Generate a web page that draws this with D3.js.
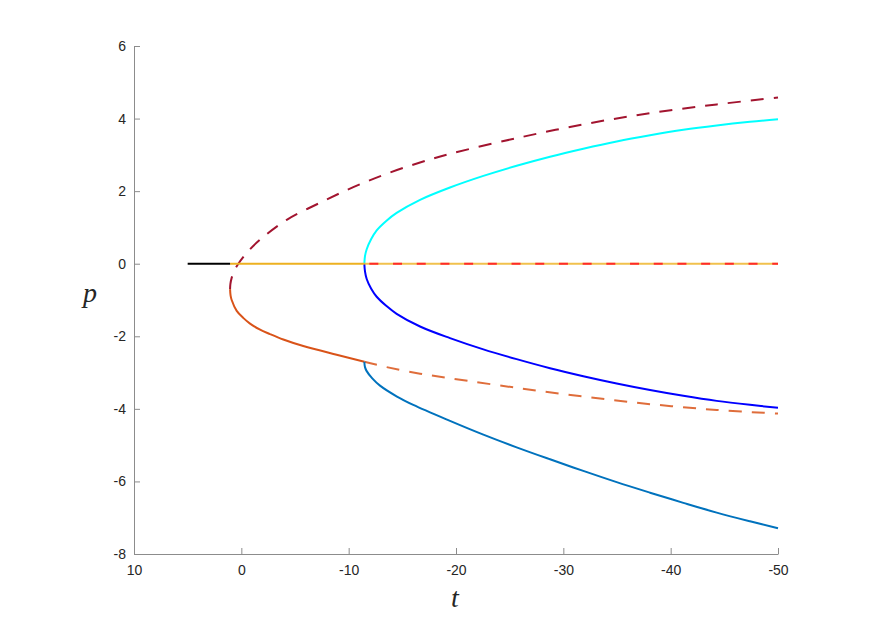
<!DOCTYPE html>
<html>
<head>
<meta charset="utf-8">
<script src="https://cdn.jsdelivr.net/npm/d3@7"></script>
<style>
  html, body { margin: 0; padding: 0; background: #fff; }
  svg { display: block; }
  .tick text { font-family: "Liberation Sans", Arial, Helvetica, sans-serif; font-size: 14px; fill: #262626; }
</style>
</head>
<body>
<svg id="chart" width="881" height="623"></svg>
<script>
// ---- data (t, p) ----
const xTicks = [10, 0, -10, -20, -30, -40, -50];
const yTicks = [-8, -6, -4, -2, 0, 2, 4, 6];

const blackBranch = [[5, 0], [1.05, 0]];
const yellowStable = [[1.05, 0], [-11.46, 0]];
const yellowUnstable = [[-11.46, 0], [-50, 0]];
const redDashedZero = [[-11.46, 0], [-50, 0]];

const upperDashed = [[1.05, -0.70], [1.02, -0.56], [0.90, -0.39], [0.62, -0.17], [0.28, 0.00], [-0.50, 0.30],
  [-1.74, 0.66], [-4.23, 1.21], [-7.33, 1.68], [-10.43, 2.11], [-13.54, 2.48], [-16.65, 2.79],
  [-19.60, 3.04], [-25.65, 3.46], [-31.86, 3.84], [-38.08, 4.15], [-44.29, 4.39], [-50, 4.58]];

const lowerSolid = [[1.05, -0.70], [1.00, -0.88], [0.90, -1.00], [0.43, -1.30], [-0.20, -1.50], [-0.81, -1.65],
  [-1.70, -1.81], [-2.67, -1.94], [-3.91, -2.09], [-5.77, -2.27], [-8.88, -2.51], [-11.46, -2.70]];

const lowerDashed = [[-11.46, -2.70], [-13.54, -2.85], [-16.65, -3.03], [-19.75, -3.17], [-25.65, -3.42],
  [-31.86, -3.66], [-38.08, -3.87], [-44.29, -4.03], [-50, -4.13]];

const cyanBranch = [[-11.46, 0], [-11.52, 0.21], [-11.68, 0.40], [-12.10, 0.68], [-12.61, 0.92], [-13.50, 1.18],
  [-14.47, 1.40], [-16.65, 1.76], [-19.44, 2.10], [-22.55, 2.42], [-25.65, 2.70], [-28.76, 2.95],
  [-31.86, 3.17], [-34.97, 3.37], [-38.08, 3.54], [-41.18, 3.69], [-44.29, 3.81], [-47.39, 3.91], [-50, 3.98]];

const blueBranch = [[-11.46, 0], [-11.52, -0.21], [-11.68, -0.42], [-12.10, -0.69], [-12.61, -0.91], [-13.50, -1.16],
  [-14.47, -1.38], [-16.65, -1.73], [-19.44, -2.05], [-22.55, -2.36], [-25.65, -2.63], [-28.76, -2.88],
  [-31.86, -3.10], [-34.97, -3.30], [-38.08, -3.48], [-41.18, -3.64], [-44.29, -3.78], [-47.39, -3.89], [-50, -3.97]];

const lightBlueBranch = [[-11.46, -2.70], [-11.52, -2.85], [-11.68, -2.96], [-12.20, -3.16], [-12.92, -3.36],
  [-14.50, -3.66], [-16.02, -3.89], [-19.44, -4.33], [-22.55, -4.71], [-25.65, -5.06], [-28.76, -5.39],
  [-31.86, -5.71], [-34.97, -6.02], [-38.08, -6.31], [-41.18, -6.59], [-44.29, -6.86], [-47.39, -7.10], [-50, -7.29]];

// ---- chart ----
const svg = d3.select("#chart");
const x = d3.scaleLinear().domain([10, -50]).range([134, 778]);
const y = d3.scaleLinear().domain([-8, 6]).range([554, 46]);

const line = d3.line().x(d => x(d[0])).y(d => y(d[1])).curve(d3.curveCatmullRom.alpha(0.5));

function draw(data, color, opts = {}) {
  svg.append("path")
    .datum(data)
    .attr("d", line)
    .attr("fill", "none")
    .attr("stroke", color)
    .attr("stroke-width", opts.w || 2)
    .attr("stroke-opacity", opts.op == null ? 1 : opts.op)
    .attr("stroke-dasharray", opts.dash || null)
    .attr("stroke-dashoffset", opts.offset || 0);
}

draw(upperDashed, "#A2142F", { dash: "13,10" });
draw(lowerDashed, "#D95319", { dash: "13,10", op: 0.85 });
draw(lowerSolid, "#D95319");
draw(lightBlueBranch, "#0072BD");
draw(cyanBranch, "#00FFFF");
draw(blueBranch, "#0000FF");
draw(yellowStable, "#EDB120");
draw(yellowUnstable, "#EDB120", { op: 0.8 });
draw(redDashedZero, "#FF2A2A", { dash: "9,14.7", offset: -5 });
draw(blackBranch, "#000000");

// axes
const fmt = d => String(d);
const xAxis = d3.axisBottom(x).tickValues(xTicks).tickFormat(fmt).tickSizeInner(-6).tickSizeOuter(0).tickPadding(11);
const yAxis = d3.axisLeft(y).tickValues(yTicks).tickFormat(fmt).tickSizeInner(-6).tickSizeOuter(0).tickPadding(8);

const gx = svg.append("g").attr("transform", "translate(0,554)").call(xAxis);
const gy = svg.append("g").attr("transform", "translate(134,0)").call(yAxis);
[gx, gy].forEach(g => {
  g.select(".domain").attr("stroke", "#8c8c8c").attr("stroke-width", 1);
  g.selectAll(".tick line").attr("stroke", "#8c8c8c");
});

// axis labels
svg.append("text").attr("x", 455).attr("y", 607).attr("text-anchor", "middle")
  .attr("font-family", "'Liberation Serif', 'DejaVu Serif', serif").attr("font-style", "italic")
  .attr("font-size", 28).attr("fill", "#262626").text("t");
svg.append("text").attr("x", 90).attr("y", 302).attr("text-anchor", "middle")
  .attr("font-family", "'Liberation Serif', 'DejaVu Serif', serif").attr("font-style", "italic")
  .attr("font-size", 28).attr("fill", "#262626").text("p");
</script>
</body>
</html>
